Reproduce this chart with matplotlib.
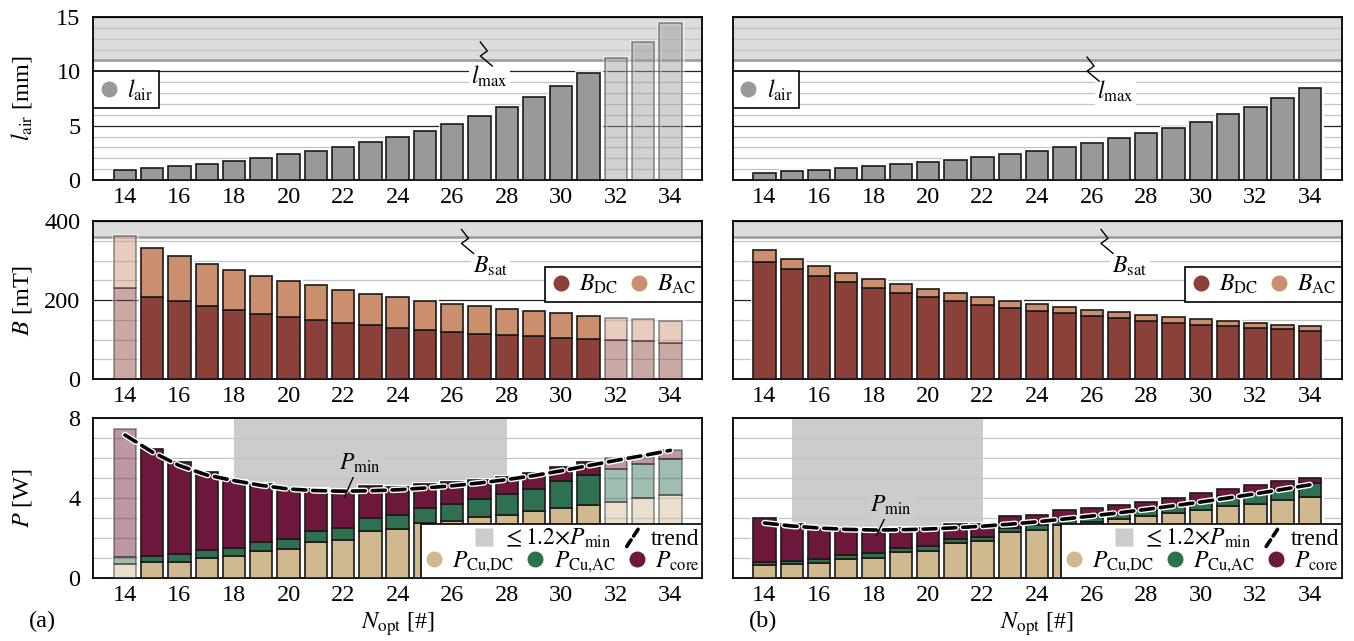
import numpy as np
import matplotlib
matplotlib.use('Agg')
import matplotlib.pyplot as plt
import matplotlib.patheffects as pe
import matplotlib.transforms as mtransforms
from matplotlib.lines import Line2D
from matplotlib.patches import Rectangle
from matplotlib.legend_handler import HandlerBase

plt.rcParams['font.family'] = ['Liberation Serif', 'DejaVu Serif']
plt.rcParams['mathtext.fontset'] = 'stix'
plt.rcParams['font.size'] = 17.5

# number of turns
n_opt = [14, 15, 16, 17, 18, 19, 20, 21, 22, 23, 24, 25, 26, 27, 28, 29, 30, 31, 32, 33, 34]
n_ticks = [14, 16, 18, 20, 22, 24, 26, 28, 30, 32, 34]

# air gap length [mm]
l_air_a = [0.92, 1.08, 1.28, 1.5, 1.75, 2.03, 2.35, 2.69, 3.08, 3.52, 4.0,
           4.55, 5.18, 5.9, 6.7, 7.63, 8.66, 9.85, 11.2, 12.7, 14.45]
l_air_b = [0.68, 0.8, 0.93, 1.08, 1.27, 1.46, 1.65, 1.87, 2.13, 2.41, 2.7,
           3.06, 3.41, 3.86, 4.3, 4.83, 5.38, 6.03, 6.74, 7.55, 8.42]
l_max = 11

# flux density [mT]
b_dc_a = [230, 208, 197, 184, 174, 164, 157, 149, 142, 136, 130,
          125, 120, 115, 112, 108, 104, 101, 98, 95, 92]
b_ac_a = [133, 123, 114, 108, 102, 98, 91, 88, 84, 80, 77,
          73, 71, 69, 66, 64, 62, 59, 57, 56, 54]
b_dc_b = [297, 278, 260, 245, 231, 218, 208, 198, 188, 180, 173,
          166, 160, 154, 148, 143, 138, 134, 130, 126, 122]
b_ac_b = [29, 26, 25, 23, 22, 22, 20, 20, 20, 18, 17,
          17, 15, 15, 15, 15, 15, 14, 13, 12, 12]
b_sat = 360

# losses [W]
p_cu_dc_a = [0.72, 0.78, 0.82, 1.02, 1.08, 1.35, 1.45, 1.82, 1.92, 2.35, 2.47,
             2.73, 2.87, 3.03, 3.17, 3.35, 3.52, 3.65, 3.82, 3.98, 4.15]
p_cu_ac_a = [0.31, 0.34, 0.38, 0.38, 0.44, 0.45, 0.5, 0.53, 0.58, 0.65, 0.68,
             0.75, 0.83, 0.92, 1.01, 1.12, 1.33, 1.52, 1.63, 1.72, 1.8]
p_core_a = [6.42, 5.33, 4.6, 3.92, 3.33, 2.88, 2.47, 2.1, 1.82, 1.58, 1.4,
            1.24, 1.08, 0.93, 0.87, 0.78, 0.7, 0.63, 0.55, 0.47, 0.43]
trend_a = [7.15, 6.3, 5.62, 5.15, 4.87, 4.63, 4.45, 4.37, 4.34, 4.36, 4.41,
           4.5, 4.61, 4.75, 4.92, 5.12, 5.36, 5.62, 5.88, 6.12, 6.38]

p_cu_dc_b = [0.65, 0.7, 0.77, 0.95, 1.02, 1.3, 1.36, 1.74, 1.84, 2.29, 2.42,
             2.67, 2.8, 2.95, 3.08, 3.25, 3.42, 3.58, 3.72, 3.88, 4.03]
p_cu_ac_b = [0.15, 0.17, 0.18, 0.2, 0.21, 0.22, 0.24, 0.21, 0.2, 0.21, 0.25,
             0.25, 0.3, 0.27, 0.37, 0.37, 0.36, 0.5, 0.56, 0.59, 0.72]
p_core_b = [2.2, 1.85, 1.52, 1.32, 1.19, 0.98, 0.92, 0.77, 0.67, 0.61, 0.5,
            0.48, 0.42, 0.45, 0.37, 0.38, 0.47, 0.39, 0.37, 0.36, 0.25]
trend_b = [2.75, 2.6, 2.5, 2.43, 2.4, 2.41, 2.45, 2.51, 2.59, 2.69, 2.81,
           2.95, 3.1, 3.26, 3.43, 3.61, 3.8, 4.0, 4.21, 4.43, 4.66]

# range within 1.2 x P_min
pmin_band_a = (18, 28)
pmin_band_b = (15, 22)

# infeasible designs in (a), drawn faded
faded_lair_a = [32, 33, 34]
faded_a = [14, 32, 33, 34]

c_lair = '#999999'
c_bdc = '#8b4039'
c_bac = '#cc8f6e'
c_pdc = '#d0b98f'
c_pac = '#2e7050'
c_core = '#6d173c'
c_band = '#dcdcdc'
c_span = '#cccccc'

W = 0.82
FS_LEG = 17

fig = plt.figure(figsize=(13.54, 6.41), dpi=100)
cols = [0.0687, 0.541]
rows = [(0.7192, 0.2543), (0.4087, 0.2465), (0.0983, 0.2496)]
axs = [[fig.add_axes([c, r[0], 0.450, r[1]]) for c in cols] for r in rows]


def style(ax, ylim, major, minor, left, dark=True):
    ax.set_xlim(12.83, 35.17)
    ax.set_ylim(*ylim)
    ax.set_xticks(n_ticks)
    ax.set_yticks(major)
    ax.set_yticks(minor, minor=True)
    ax.grid(which='major', axis='y', color='#222222' if dark else '#c4c4c4', lw=0.9)
    ax.grid(which='minor', axis='y', color='#c4c4c4', lw=0.9)
    ax.grid(False, axis='x')
    ax.set_axisbelow(True)
    ax.tick_params(which='both', length=0)
    ax.tick_params(axis='y', pad=9, labelleft=left)
    ax.tick_params(axis='x', pad=5)
    for s in ax.spines.values():
        s.set_linewidth(1.3)


def bars(ax, layers, colors, faded):
    layers = np.array(layers)
    total = layers.sum(axis=0)
    for i, n in enumerate(n_opt):
        a = 0.45 if n in faded else 1.0
        ax.bar(n, total[i], width=W, color='none', edgecolor='white', linewidth=3.5,
               alpha=a, zorder=2)
        bottom = 0
        for layer, c in zip(layers, colors):
            ax.bar(n, layer[i], width=W, bottom=bottom, color=c, edgecolor='#1a1a1a',
                   linewidth=1.2, alpha=a, zorder=3)
            bottom += layer[i]


def limit_band(ax, lo, hi):
    ax.axhspan(lo, hi, color=c_band, zorder=0.2, lw=0)
    ax.axhline(lo, color='#a0a0a0', lw=2, zorder=0.6)


def zigzag(ax, x, y):
    # small break mark, shape in inches from its lower end
    tr = fig.dpi_scale_trans + mtransforms.ScaledTranslation(x, y, ax.transData)
    ax.plot([-0.12, -0.05, -0.12, 0.0], [0.24, 0.15, 0.10, 0.0], color='black',
            lw=1.0, transform=tr, zorder=4, clip_on=False)


def tag(ax, x, y, s, fc='white'):
    ax.text(x, y, s, ha='center', va='center', zorder=4, fontsize=FS_LEG,
            bbox=dict(facecolor=fc, edgecolor='none', pad=1.5))


def circ(c):
    return Line2D([], [], marker='o', ls='none', markersize=11.5,
                  markerfacecolor=c, markeredgecolor='none')


class HandlerDiag(HandlerBase):
    def create_artists(self, legend, orig_handle, xdescent, ydescent, width,
                       height, fontsize, trans):
        ln = Line2D([-xdescent + 0.2 * width, -xdescent + 0.8 * width],
                    [-ydescent - 0.1 * height, -ydescent + 1.0 * height],
                    color='black', lw=2.6, dashes=(2.2, 1.3), dash_capstyle='round')
        ln.set_path_effects([pe.Stroke(linewidth=4.5, foreground='white'), pe.Normal()])
        ln.set_transform(trans)
        return [ln]


leg_kw = dict(frameon=True, fancybox=False, framealpha=1, edgecolor='black',
              handlelength=0.85, handletextpad=0.35, columnspacing=0.45,
              borderpad=0.25, borderaxespad=0, fontsize=FS_LEG)

# ---- top row: air gap
for ax, vals, faded, left in [(axs[0][0], l_air_a, faded_lair_a, True),
                              (axs[0][1], l_air_b, [], False)]:
    style(ax, (0, 15), [0, 5, 10, 15], list(range(0, 16)), left)
    limit_band(ax, l_max, 15)
    bars(ax, [vals], [c_lair], faded)
    leg = ax.legend(handles=[circ(c_lair)], labels=[r'$l_\mathrm{air}$'],
                    loc='upper left', bbox_to_anchor=(0, 10 / 15), **leg_kw)
    leg.get_frame().set_linewidth(1.2)
axs[0][0].set_ylabel(r'$l_\mathrm{air}$ [mm]')
tag(axs[0][0], 27.36, 9.52, r'$l_\mathrm{max}$')
zigzag(axs[0][0], 27.47, 10.49)
tag(axs[0][1], 26.87, 8.2, r'$l_\mathrm{max}$')
zigzag(axs[0][1], 26.27, 9.1)

# ---- middle row: flux density
for ax, dc, ac, faded, left in [(axs[1][0], b_dc_a, b_ac_a, faded_a, True),
                                (axs[1][1], b_dc_b, b_ac_b, [], False)]:
    style(ax, (0, 400), [0, 200, 400], list(range(0, 401, 50)), left)
    limit_band(ax, b_sat, 400)
    bars(ax, [dc, ac], [c_bdc, c_bac], faded)
    leg = ax.legend(handles=[circ(c_bdc), circ(c_bac)],
                    labels=[r'$B_\mathrm{DC}$', r'$B_\mathrm{AC}$'], ncol=2,
                    loc='upper right', bbox_to_anchor=(1, 0.709), **leg_kw)
    leg.get_frame().set_linewidth(1.2)
    tag(ax, 27.4, 285, r'$B_\mathrm{sat}$')
    zigzag(ax, 26.78, 318)
axs[1][0].set_ylabel(r'$B$ [mT]')

# ---- bottom row: losses
panels = [(axs[2][0], p_cu_dc_a, p_cu_ac_a, p_core_a, trend_a, pmin_band_a, faded_a, True,
           (22.6, 5.75), (22.05, 4.05)),
          (axs[2][1], p_cu_dc_b, p_cu_ac_b, p_core_b, trend_b, pmin_band_b, [], False,
           (18.65, 3.65), (18.1, 2.12))]
fig.canvas.draw()
for ax, dc, ac, core, trend, band, faded, left, txy, pxy in panels:
    style(ax, (0, 8), [0, 4, 8], list(range(0, 9)), left, dark=False)
    ax.axvspan(band[0], band[1], color=c_span, lw=0, zorder=0.2)
    bars(ax, [dc, ac, core], [c_pdc, c_pac, c_core], faded)
    ax.plot(n_opt, trend, color='black', lw=2.6, dashes=(3.6, 1.9), dash_capstyle='round',
            path_effects=[pe.Stroke(linewidth=4.6, foreground='white'), pe.Normal()],
            zorder=4)
    ax.annotate(r'$P_\mathrm{min}$', xy=pxy, xytext=txy, ha='center', va='center', zorder=4,
                fontsize=FS_LEG, bbox=dict(facecolor=c_span, edgecolor='none', pad=1.5),
                arrowprops=dict(arrowstyle='-', color='black', lw=1.0, shrinkA=0, shrinkB=0))
    ax.set_xlabel(r'$N_\mathrm{opt}$ [#]')
    ax.xaxis.set_label_coords(0.5, -0.2)

    kw = dict(leg_kw)
    kw['frameon'] = False
    kw['borderpad'] = 0.12
    trend_h = Line2D([], [], color='black')
    span_h = Line2D([], [], marker='s', ls='none', markersize=13,
                    markerfacecolor=c_span, markeredgecolor='none')
    leg2 = ax.legend(handles=[circ(c_pdc), circ(c_pac), circ(c_core)],
                     labels=[r'$P_\mathrm{Cu{,}DC}$', r'$P_\mathrm{Cu{,}AC}$', r'$P_\mathrm{core}$'],
                     ncol=3, loc='lower right', bbox_to_anchor=(1, 0), **kw)
    ax.add_artist(leg2)
    fig.canvas.draw()
    bb2 = leg2.get_window_extent().transformed(ax.transAxes.inverted())
    leg1 = ax.legend(handles=[span_h, trend_h],
                     labels=[r'$\leq 1.2{\times}P_\mathrm{min}$', 'trend'],
                     ncol=2, loc='lower right', bbox_to_anchor=(1, bb2.y1 - 0.04),
                     handler_map={trend_h: HandlerDiag()}, **kw)
    fig.canvas.draw()
    bb1 = leg1.get_window_extent().transformed(ax.transAxes.inverted())
    x0 = min(bb1.x0, bb2.x0)
    ax.add_patch(Rectangle((x0, 0), 1 - x0, bb1.y1, transform=ax.transAxes,
                           facecolor='white', edgecolor='black', lw=1.2, zorder=4.5))
axs[2][0].set_ylabel(r'$P$ [W]')

for row in axs:
    row[0].yaxis.set_label_coords(-0.097, 0.5)

fig.text(29 / 1354, 0.031, '(a)', ha='left', va='center')
fig.text(749 / 1354, 0.031, '(b)', ha='left', va='center')

fig.savefig('out.png', dpi=100)
